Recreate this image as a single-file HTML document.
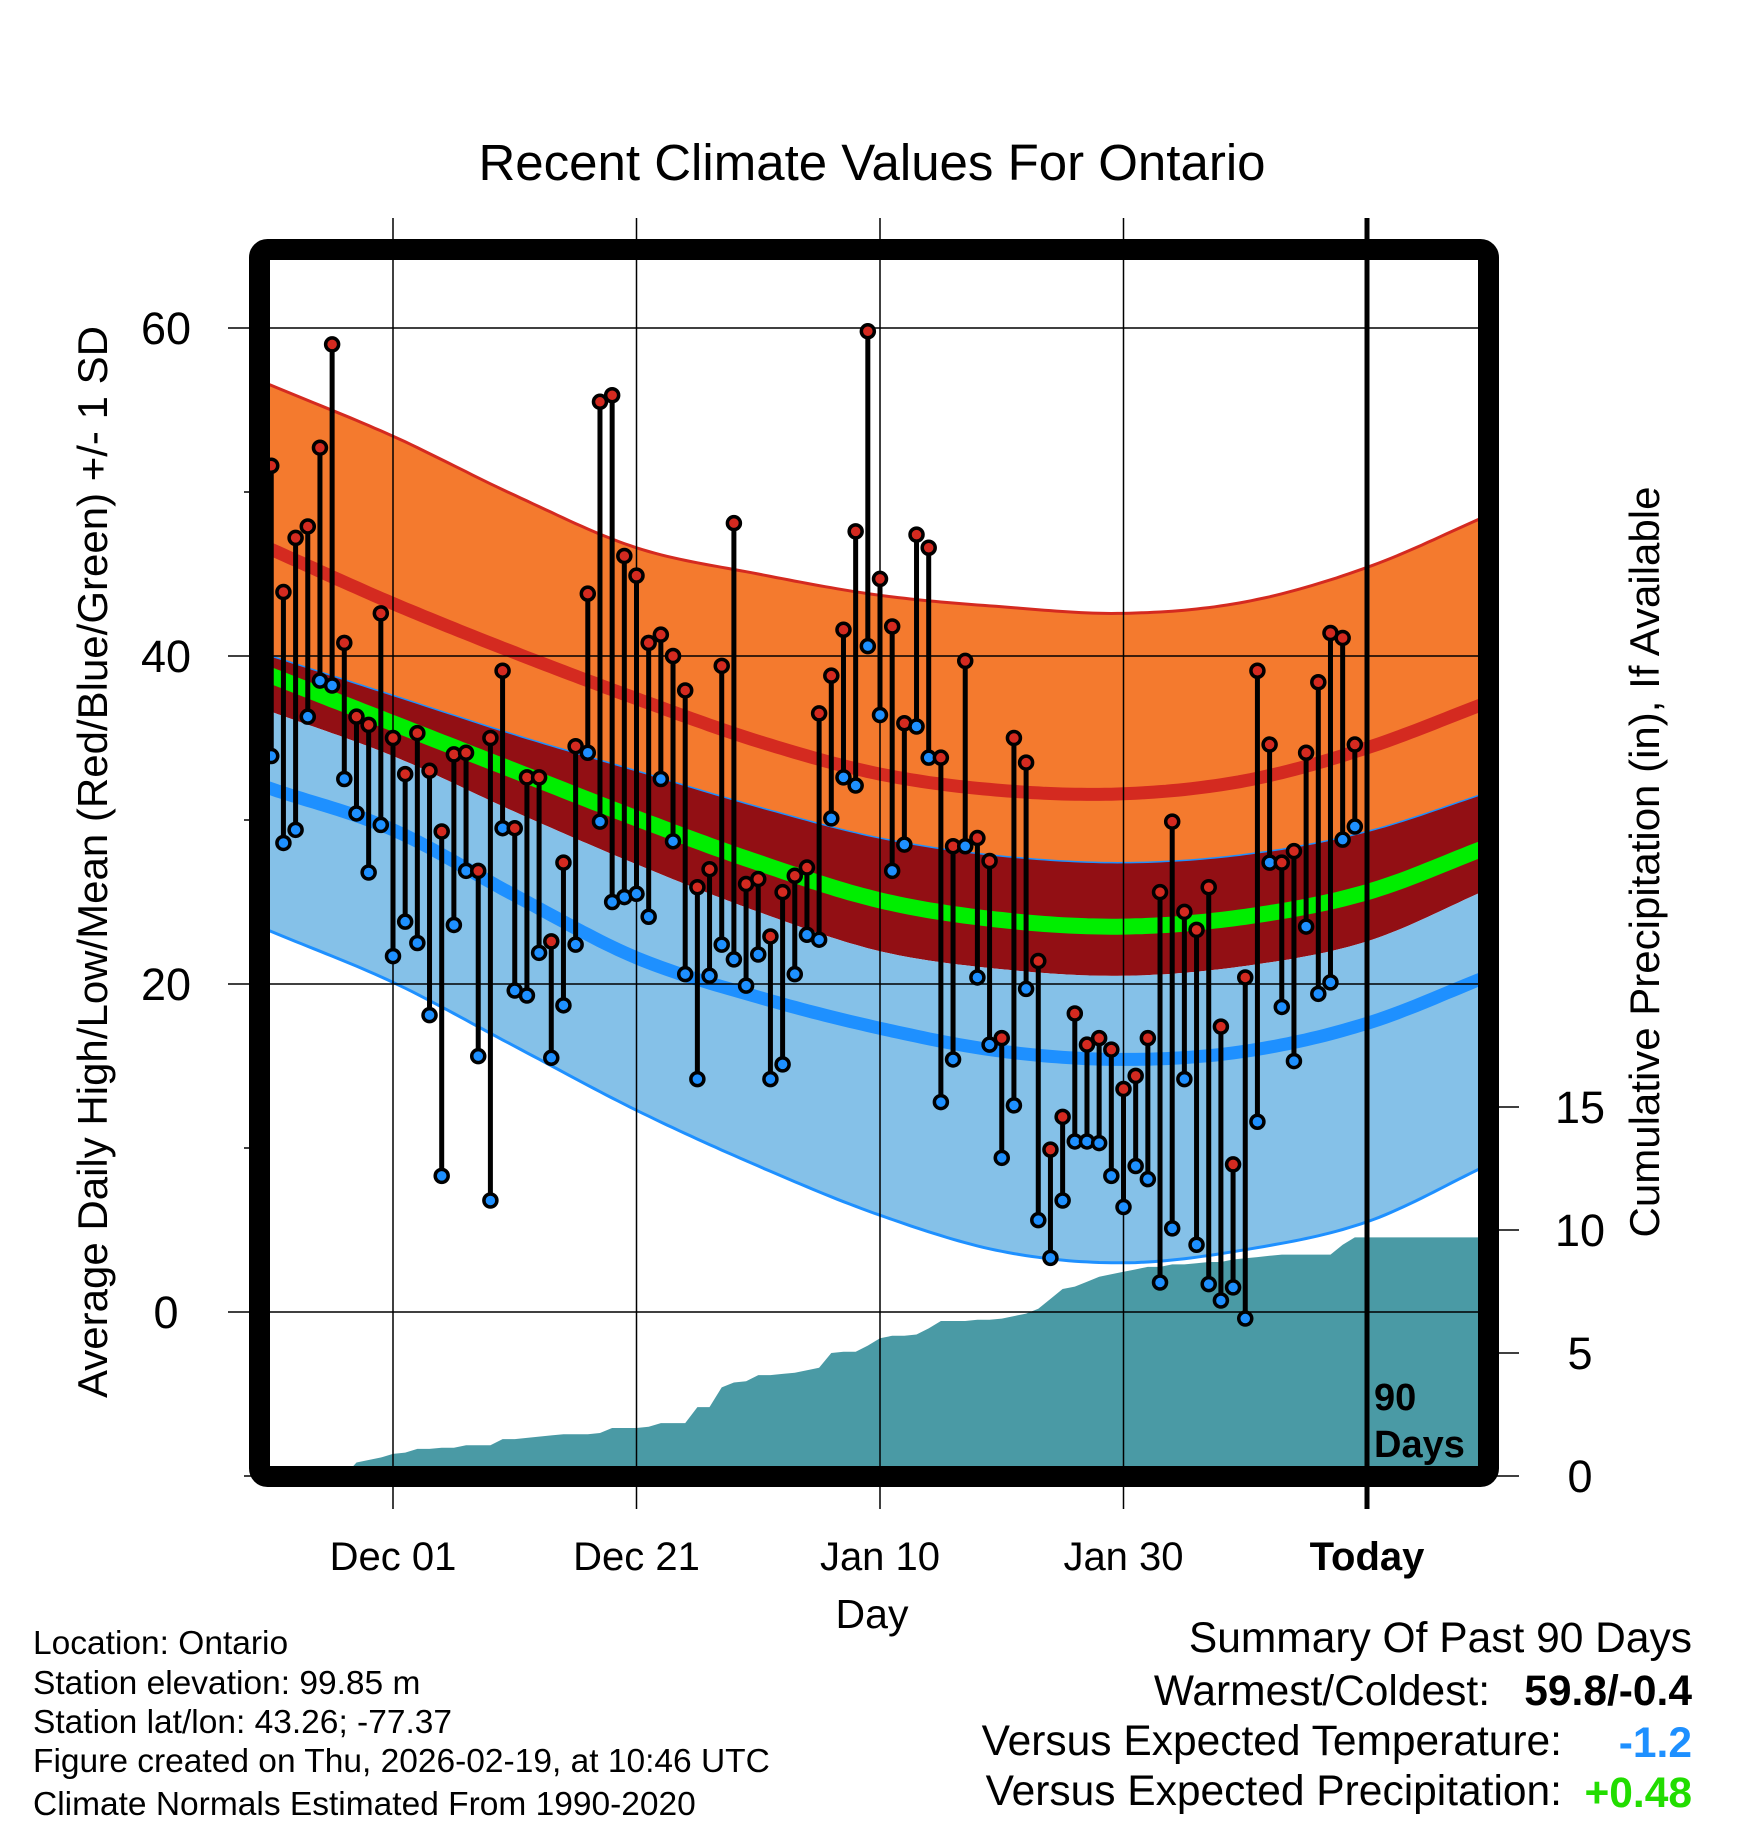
<!DOCTYPE html>
<html><head><meta charset="utf-8">
<style>
html,body{margin:0;padding:0;background:#fff;}
svg{display:block;font-family:"Liberation Sans",Arial,sans-serif;}
</style></head>
<body>
<svg id="chart" width="1748" height="1828" viewBox="0 0 1748 1828" xmlns="http://www.w3.org/2000/svg">
<defs><clipPath id="plotclip"><rect x="270" y="260" width="1208" height="1208"/></clipPath></defs>
<text x="872" y="180" font-size="51" text-anchor="middle">Recent Climate Values For Ontario</text>
<g id="fills" clip-path="url(#plotclip)"></g>
<g id="grid"></g>
<g id="marks" clip-path="url(#plotclip)"></g>
<rect x="259.5" y="249.5" width="1229" height="1227" rx="8" fill="none" stroke="#000" stroke-width="21"/>
<g id="axes"></g>
<text transform="translate(107,862) rotate(-90)" font-size="42" text-anchor="middle">Average Daily High/Low/Mean (Red/Blue/Green) +/- 1 SD</text>
<text transform="translate(1659,862) rotate(-90)" font-size="42" text-anchor="middle">Cumulative Precipitation (in), If Available</text>
<text x="872" y="1628" font-size="41" text-anchor="middle">Day</text>
<text x="1374" y="1410" font-size="38" font-weight="bold">90</text>
<text x="1374" y="1457" font-size="38" font-weight="bold">Days</text>
<g font-size="33.5">
<text x="33" y="1654">Location: Ontario</text>
<text x="33" y="1694">Station elevation: 99.85 m</text>
<text x="33" y="1733">Station lat/lon: 43.26; -77.37</text>
<text x="33" y="1772">Figure created on Thu, 2026-02-19, at 10:46 UTC</text>
<text x="33" y="1815">Climate Normals Estimated From 1990-2020</text>
</g>
<g font-size="42.5">
<text x="1692" y="1652" text-anchor="end">Summary Of Past 90 Days</text>
<text x="1490" y="1705" text-anchor="end">Warmest/Coldest:</text>
<text x="1692" y="1705" text-anchor="end" font-weight="bold">59.8/-0.4</text>
<text x="1562" y="1755" text-anchor="end">Versus Expected Temperature:</text>
<text x="1692" y="1757" text-anchor="end" font-weight="bold" fill="#1e90ff">-1.2</text>
<text x="1562" y="1805" text-anchor="end">Versus Expected Precipitation:</text>
<text x="1692" y="1807" text-anchor="end" font-weight="bold" fill="#22dd00">+0.48</text>
</g>
</svg>
<script>
// ---- data ----
const highs=[51.6,43.9,47.2,47.9,52.7,59,40.8,36.3,35.8,42.6,35,32.8,35.3,33,29.3,34,34.1,26.9,35,39.1,29.5,32.6,32.6,22.6,27.4,34.5,43.8,55.5,55.9,46.1,44.9,40.8,41.3,40,37.9,25.9,27,39.4,48.1,26.1,26.4,22.9,25.6,26.6,27.1,36.5,38.8,41.6,47.6,59.8,44.7,41.8,35.9,47.4,46.6,33.8,28.4,39.7,28.9,27.5,16.7,35,33.5,21.4,9.9,11.9,18.2,16.3,16.7,16,13.6,14.4,16.7,25.6,29.9,24.4,23.3,25.9,17.4,9,20.4,39.1,34.6,27.4,28.1,34.1,38.4,41.4,41.1,34.6];
const lows=[33.9,28.6,29.4,36.3,38.5,38.2,32.5,30.4,26.8,29.7,21.7,23.8,22.5,18.1,8.3,23.6,26.9,15.6,6.8,29.5,19.6,19.3,21.9,15.5,18.7,22.4,34.1,29.9,25,25.3,25.5,24.1,32.5,28.7,20.6,14.2,20.5,22.4,21.5,19.9,21.8,14.2,15.1,20.6,23,22.7,30.1,32.6,32.1,40.6,36.4,26.9,28.5,35.7,33.8,12.8,15.4,28.4,20.4,16.3,9.4,12.6,19.7,5.6,3.3,6.8,10.4,10.4,10.3,8.3,6.4,8.9,8.1,1.8,5.1,14.2,4.1,1.7,0.7,1.5,-0.4,11.6,27.4,18.6,15.3,23.5,19.4,20.1,28.8,29.6];
const precip=[0,0,0,0,0,0,0,0.55,0.65,0.75,0.9,0.95,1.1,1.1,1.15,1.15,1.25,1.25,1.25,1.5,1.5,1.55,1.6,1.65,1.7,1.7,1.7,1.75,1.95,1.95,1.95,2.0,2.15,2.15,2.15,2.8,2.8,3.6,3.8,3.85,4.1,4.1,4.15,4.2,4.3,4.4,5.0,5.05,5.05,5.3,5.6,5.7,5.7,5.75,6.0,6.3,6.3,6.3,6.35,6.35,6.4,6.5,6.6,6.8,7.2,7.6,7.7,7.9,8.1,8.2,8.3,8.4,8.5,8.5,8.6,8.6,8.65,8.7,8.7,8.8,8.85,8.9,8.95,9.0,9.0,9.0,9.0,9.0,9.4,9.7];
const firstDay=-10;
const normDays=[-10,0,10,20,30,40,50,60,70,80,90];
const sdHighTop=[56.5,53.4,49.8,46.6,45.0,43.7,43.0,42.6,43.3,45.4,48.6];
const normHigh=[46.5,43.2,40.2,37.4,34.8,32.8,31.8,31.6,32.4,34.4,37.2];
const sdMidTop=[40.0,37.6,35.2,33.0,30.8,28.9,27.8,27.4,27.9,29.3,31.7];
const normMean=[38.8,35.9,33.0,30.1,27.4,25.1,23.9,23.5,24.1,25.6,28.4];
const sdMidBot=[36.6,33.9,30.5,27.3,24.4,22.0,20.9,20.5,21.1,22.6,25.8];
const normLow=[31.9,29.4,25.4,21.6,19.2,17.3,15.9,15.4,15.9,17.6,20.5];
const sdLowBot=[23.2,20.1,16.2,12.3,8.9,5.9,3.7,3.0,3.8,5.5,9.0];
const xTickDays=[0,20,40,60,80];
const xTickLabels=["Dec 01","Dec 21","Jan 10","Jan 30","Today"];
const yTicks=[0,20,40,60];
const yMinor=[-10,10,30,50];
const pTicks=[0,5,10,15];
// ---- axes ----
const X=d=>393+d*12.175;
const Y=t=>1312-t*16.4;
const YP=p=>1476-p*24.6;
const NS='http://www.w3.org/2000/svg';
function mk(tag,attrs,parent){const e=document.createElementNS(NS,tag);for(const k in attrs)e.setAttribute(k,attrs[k]);parent.appendChild(e);return e;}
function interp(arr,d){
  let i=0;while(i<normDays.length-2&&d>normDays[i+1])i++;
  const p0=i>0?arr[i-1]:2*arr[0]-arr[1],p1=arr[i],p2=arr[i+1],p3=i+2<arr.length?arr[i+2]:2*arr[i+1]-arr[i];
  const t=(d-normDays[i])/(normDays[i+1]-normDays[i]);
  const t2=t*t,t3=t2*t;
  return 0.5*((2*p1)+(-p0+p2)*t+(2*p0-5*p1+4*p2-p3)*t2+(-p0+3*p1-3*p2+p3)*t3);
}
function curvePts(arr){const pts=[];for(let d=-11;d<=90;d+=0.5)pts.push([X(d),Y(interp(arr,d))]);return pts;}
function line(pts){return pts.map((p,i)=>(i?'L':'M')+p[0].toFixed(1)+','+p[1].toFixed(1)).join('');}
function band(a,b){const pa=curvePts(a),pb=curvePts(b).reverse();return line(pa)+line(pb).replace('M','L')+'Z';}
const fills=document.getElementById('fills');
let e;
e=mk('path',{d:band(sdHighTop,sdMidTop),fill:'#f47a2e'},fills);


e=mk('path',{d:band(sdMidTop,sdMidBot),fill:'#920f14'},fills);


e=mk('path',{d:band(sdMidBot,sdLowBot),fill:'#85c1e8'},fills);


e=mk('path',{d:line(curvePts(sdHighTop)),fill:'none',stroke:'#d42a20',"stroke-width":3},fills);


e=mk('path',{d:line(curvePts(sdMidTop)),fill:'none',stroke:'#1e90ff',"stroke-width":1.5},fills);


e=mk('path',{d:line(curvePts(sdLowBot)),fill:'none',stroke:'#1e90ff',"stroke-width":3},fills);


e=mk('path',{d:line(curvePts(normHigh)),fill:'none',stroke:'#d42a20',"stroke-width":13},fills);


e=mk('path',{d:line(curvePts(normMean)),fill:'none',stroke:'#00ee00',"stroke-width":16},fills);


e=mk('path',{d:line(curvePts(normLow)),fill:'none',stroke:'#1e90ff',"stroke-width":13},fills);


let pp=[[X(firstDay),YP(0)]];
precip.forEach((p,i)=>pp.push([X(firstDay+i),YP(p)]));
pp.push([X(90),YP(precip[precip.length-1])]);pp.push([X(90),YP(0)]);
e=mk('path',{d:line(pp)+'Z',fill:'#4a9aa5'},fills);


const grid=document.getElementById('grid');
yTicks.forEach(t=>{
  e=mk('line',{x1:228,x2:1478,y1:Y(t),y2:Y(t),stroke:'#000','stroke-width':1.5},grid);
  
  
});
xTickDays.forEach((d,i)=>{
  if(i===xTickDays.length-1)return;
  e=mk('line',{x1:X(d),x2:X(d),y1:218,y2:1509,stroke:'#000','stroke-width':1.5},grid);
  
  
});
const marks=document.getElementById('marks');
highs.forEach((h,i)=>{
  const x=X(firstDay+i);
  e=mk('line',{x1:x,x2:x,y1:Y(h),y2:Y(lows[i]),stroke:'#000','stroke-width':5},marks);
  
  
});
highs.forEach((h,i)=>{
  const x=X(firstDay+i);
  e=mk('circle',{cx:x,cy:Y(lows[i]),r:6.5,fill:'#1e90ff',stroke:'#000','stroke-width':3.5},marks);
  
  
  e=mk('circle',{cx:x,cy:Y(h),r:6.5,fill:'#d42a20',stroke:'#000','stroke-width':3.5},marks);
  
  
});
const axes=document.getElementById('axes');
yTicks.forEach(t=>{
  e=mk('text',{x:166,y:Y(t)+16,'font-size':45,'text-anchor':'middle'},axes);
  e.textContent=t;
  
  
});
yMinor.forEach(t=>{
  e=mk('line',{x1:244,x2:252,y1:Y(t),y2:Y(t),stroke:'#000','stroke-width':1.5},axes);
  
  
});
pTicks.forEach(p=>{
  e=mk('line',{x1:1496,x2:1519,y1:YP(p),y2:YP(p),stroke:'#000','stroke-width':1.5},axes);
  
  
  e=mk('text',{x:1580,y:YP(p)+16,'font-size':45,'text-anchor':'middle'},axes);
  e.textContent=p;
  
  
});
xTickDays.forEach((d,i)=>{
  e=mk('text',{x:X(d),y:1570,'font-size':40,'text-anchor':'middle','font-weight':i===xTickDays.length-1?'bold':'normal'},axes);
  e.textContent=xTickLabels[i];
  
  
});
e=mk('line',{x1:X(80),x2:X(80),y1:218,y2:1509,stroke:'#000','stroke-width':5},axes);


</script>
</body></html>
